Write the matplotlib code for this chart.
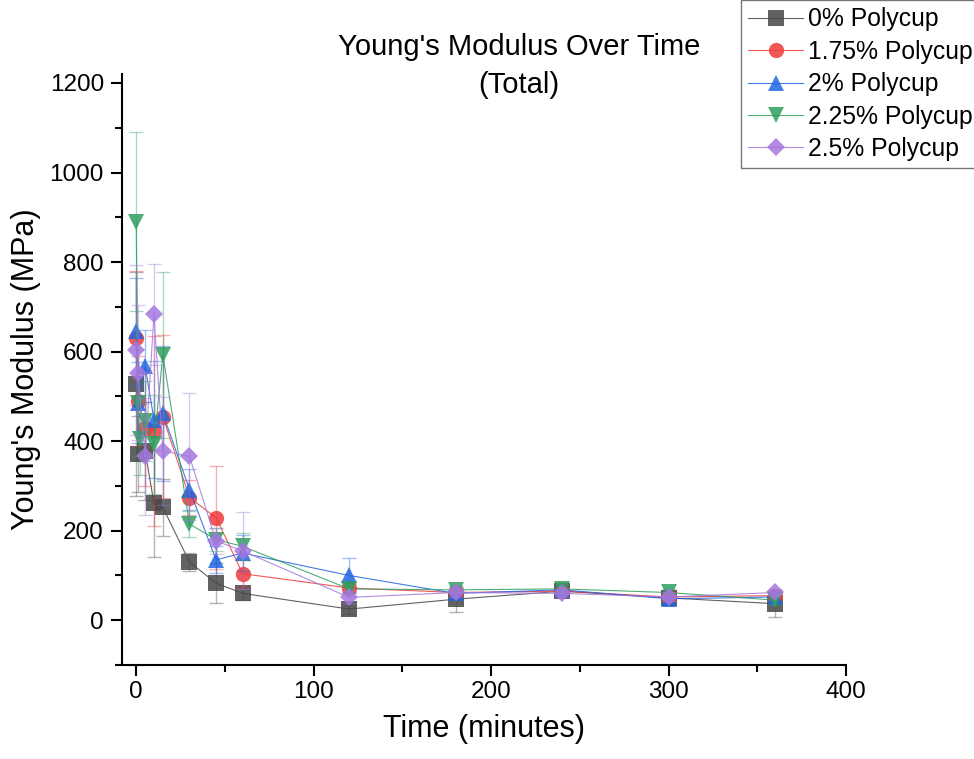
import numpy as np
import matplotlib.pyplot as plt
from matplotlib.ticker import MultipleLocator

plt.rcParams['font.family'] = ['Liberation Sans', 'DejaVu Sans']

# Datos (tiempo en minutos, modulo en MPa)
t_0 = [0, 1, 5, 10, 15, 30, 45, 60, 120, 180, 240, 300, 360]
y_0 = [527, 372, 378, 261, 252, 130, 83, 60, 25, 47, 65, 50, 37]
e_0 = [250, 85, 110, 120, 64, 20, 45, 15, 10, 28, 12, 15, 30]

t_175 = [0, 1, 5, 10, 15, 30, 45, 60, 120, 180, 240, 300, 360]
y_175 = [630, 490, 430, 422, 455, 274, 229, 104, 72, 62, 65, 52, 55]
e_175 = [150, 100, 130, 212, 183, 40, 115, 30, 12, 10, 8, 10, 8]

t_2 = [0, 1, 5, 10, 15, 30, 45, 60, 120, 180, 240, 300, 360]
y_2 = [645, 486, 568, 448, 462, 292, 135, 150, 100, 60, 68, 48, 52]
e_2 = [120, 90, 80, 130, 150, 45, 30, 40, 38, 10, 8, 10, 10]

t_225 = [0, 1, 2, 5, 10, 15, 30, 45, 60, 120, 180, 240, 300, 360]
y_225 = [890, 486, 404, 445, 393, 593, 215, 180, 165, 70, 68, 70, 62, 45]
e_225 = [200, 120, 80, 90, 110, 185, 30, 25, 30, 10, 8, 8, 8, 10]

t_25 = [0, 1, 5, 10, 15, 30, 45, 60, 120, 180, 240, 300, 360]
y_25 = [604, 553, 366, 683, 378, 366, 177, 155, 51, 62, 60, 52, 62]
e_25 = [190, 150, 130, 113, 120, 142, 30, 86, 15, 10, 8, 10, 8]

etiquetas = ['0% Polycup', '1.75% Polycup', '2% Polycup', '2.25% Polycup', '2.5% Polycup']

series = [
    (t_0, y_0, e_0, 's', '#474747'),
    (t_175, y_175, e_175, 'o', '#f03a3a'),
    (t_2, y_2, e_2, '^', '#1f66e0'),
    (t_225, y_225, e_225, 'v', '#2f9e5f'),
    (t_25, y_25, e_25, 'D', '#a577de'),
]

largo, alto, DPI = 974, 759, 100
fig = plt.figure(figsize=(largo/DPI, alto/DPI), dpi=DPI, facecolor='white')
ax = fig.add_axes([0.1253, 0.1238, 0.7433, 0.7787])

handles = []
for (t, y, e, m, c), lab in zip(series, etiquetas):
    ax.errorbar(t, y, yerr=e, fmt='none', ecolor=c, alpha=0.4,
                elinewidth=1, capsize=5, capthick=1)
    ms = 9.5 if m == 'D' else 11
    h, = ax.plot(t, y, '-', color=c, lw=0.8, alpha=0.85, marker=m,
                 markersize=ms, markeredgewidth=0, label=lab)
    handles.append(h)

ax.set_xlim(-8, 400)
ax.set_ylim(-100, 1220)
ax.xaxis.set_major_locator(MultipleLocator(100))
ax.xaxis.set_minor_locator(MultipleLocator(50))
ax.yaxis.set_major_locator(MultipleLocator(200))
ax.yaxis.set_minor_locator(MultipleLocator(100))
ax.tick_params(which='major', direction='out', length=8, width=1.5, labelsize=17.5)
ax.tick_params(which='minor', direction='out', length=5, width=1.5)
ax.tick_params(axis='y', pad=5)
for lado in ['top', 'right']:
    ax.spines[lado].set_visible(False)
for lado in ['left', 'bottom']:
    ax.spines[lado].set_linewidth(1.5)

ax.set_xlabel('Time (minutes)', fontsize=22, labelpad=8)
ax.set_ylabel("Young's Modulus (MPa)", fontsize=22, labelpad=6)

fig.text(519/largo, 1 - 66/alto, "Young's Modulus Over Time\n(Total)",
         ha='center', va='center', fontsize=21, linespacing=1.45)

leg = fig.legend(handles=handles, loc='upper left', bbox_to_anchor=(741/largo, 1.0),
                 fontsize=17.8, frameon=True, fancybox=False, edgecolor='#555555',
                 handlelength=2.2, handletextpad=0.2, labelspacing=0.34,
                 borderpad=0.3, borderaxespad=0)
leg.get_frame().set_linewidth(1)

plt.savefig('out.png', dpi=DPI)
